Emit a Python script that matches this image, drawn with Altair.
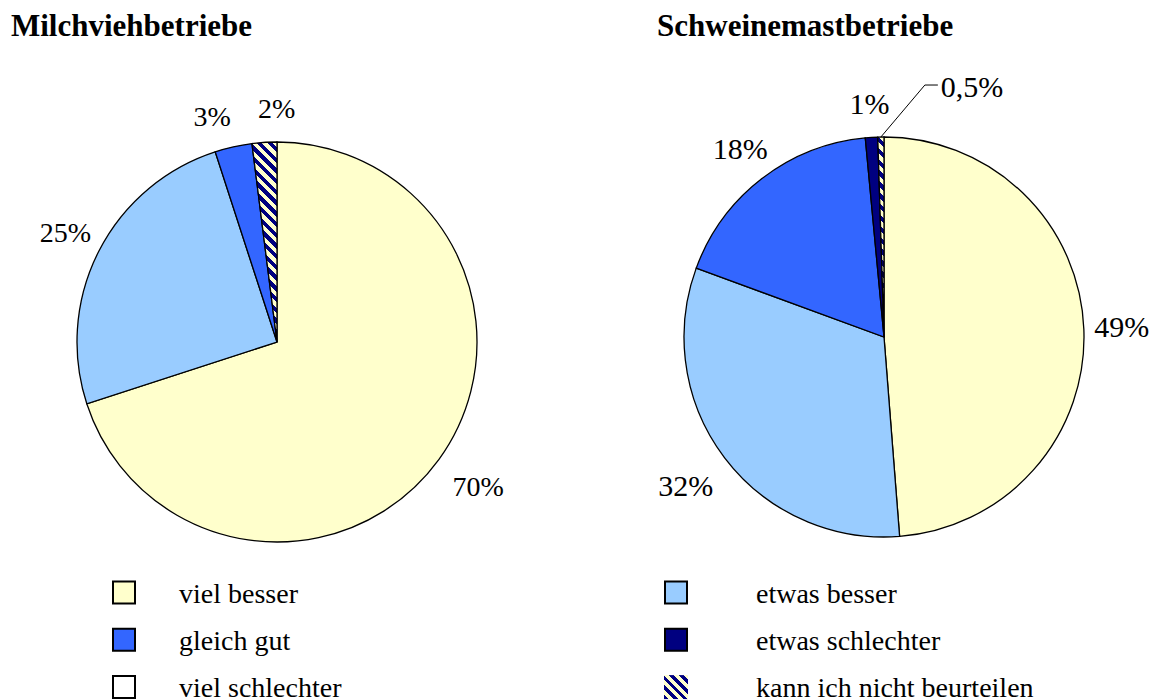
import math
import altair as alt
import pandas as pd

# ---------------- data ----------------
titles = ["Milchviehbetriebe", "Schweinemastbetriebe"]

cats_left = ["viel besser", "etwas besser", "gleich gut", "kann ich nicht beurteilen"]
vals_left = [70, 25, 3, 2]
labels_left = ["70%", "25%", "3%", "2%"]

cats_right = ["viel besser", "etwas besser", "gleich gut", "etwas schlechter",
              "kann ich nicht beurteilen"]
vals_right = [49, 32, 18, 1, 0.5]
labels_right = ["49%", "32%", "18%", "1%", "0,5%"]

legend_cats = ["viel besser", "etwas besser", "gleich gut", "etwas schlechter",
               "viel schlechter", "kann ich nicht beurteilen"]
HATCH = "kann ich nicht beurteilen"
solid_colors = ["#FFFFCC", "#99CCFF", "#3366FF", "#000080", "#FFFFFF", "#FFFFCC"]

# ---------------- style / layout ----------------
FONT = "Liberation Serif"
R = 200
LABEL_R0 = 232   # label distance near the top
LABEL_RS = 6     # extra distance at the sides
LABEL_RB = 20    # extra distance in the lower half
MIN_SEP = 16 * math.pi / 180  # minimum angular separation between labels
OFF = 8  # page margin
NAVY = "#000080"
PALE = "#FFFFCC"

color_scale = alt.Scale(domain=legend_cats, range=solid_colors)


def square_gradient(W, H, period=7.5):
    """Diagonal (\\) stripes as a hard-stop linear gradient over a W x H box."""
    lam = (W + H) / (W * W + H * H)
    n = max(1, round((W + H) / (math.sqrt(2) * period)))
    stops = []
    for k in range(n):
        o0, o1, o2 = k / n, (k + 0.5) / n, (k + 1) / n
        stops += [
            {"offset": o0, "color": NAVY},
            {"offset": o1, "color": NAVY},
            {"offset": o1, "color": PALE},
            {"offset": o2, "color": PALE},
        ]
    return {"gradient": "linear", "x1": 0, "y1": 1,
            "x2": lam * W, "y2": 1 - lam * H, "stops": stops}


def hatch_gradient(a0, a1, radius, period=7.5):
    pts = [(0.0, 0.0),
           (radius * math.sin(a0), -radius * math.cos(a0)),
           (radius * math.sin(a1), -radius * math.cos(a1))]
    for k in range(5):
        a = k * math.pi / 2
        if a0 <= a <= a1:
            pts.append((radius * math.sin(a), -radius * math.cos(a)))
    xs = [p[0] for p in pts]
    ys = [p[1] for p in pts]
    return square_gradient(max(xs) - min(xs), max(ys) - min(ys), period)


def pie_layers(cats, vals, labels, cx, cy, label_size):
    df = pd.DataFrame({"cat": cats, "value": vals, "label": labels,
                       "order": list(range(len(cats)))})
    total = sum(vals)
    base = (
        alt.Chart(df)
        .transform_joinaggregate(total="sum(value)")
        .transform_window(cum="sum(value)", sort=[alt.SortField("order")], frame=[None, 0])
        .transform_calculate(
            t0="(datum.cum - datum.value) / datum.total * 2 * PI",
            t1="datum.cum / datum.total * 2 * PI",
        )
        .transform_calculate(mid="(datum.t0 + datum.t1) / 2")
        .transform_calculate(
            sx=f"{cx} + {R} * sin(datum.mid)",
            sy=f"{cy} - {R} * cos(datum.mid)",
            small="datum.value / datum.total < 0.0075",
        )
        .transform_calculate(
            ex="datum.sx + 44", ey="datum.sy - 52", hx="datum.sx + 57"
        )
    )
    arcs = base.transform_filter(f"datum.cat != '{HATCH}'").mark_arc(
        radius=R, stroke="black", strokeWidth=1.3
    ).encode(
        theta=alt.Theta("t0:Q", scale=None),
        theta2="t1:Q",
        x=alt.value(cx), y=alt.value(cy),
        fill=alt.Color("cat:N", scale=color_scale, legend=None),
    )
    i = cats.index(HATCH)
    a0 = sum(vals[:i]) / total * 2 * math.pi
    a1 = sum(vals[: i + 1]) / total * 2 * math.pi
    hatched = base.transform_filter(f"datum.cat == '{HATCH}'").mark_arc(
        radius=R, stroke="black", strokeWidth=1.3, fill=hatch_gradient(a0, a1, R)
    ).encode(
        theta=alt.Theta("t0:Q", scale=None),
        theta2="t1:Q",
        x=alt.value(cx), y=alt.value(cy),
    )
    text = (
        base.transform_filter("!datum.small")
        .transform_window(prev="lag(mid)", nxt="lead(mid)", sort=[alt.SortField("order")])
        .transform_calculate(
            gapn="datum.nxt == null ? 99 : datum.nxt - datum.mid",
            gapp="datum.prev == null ? 99 : datum.mid - datum.prev",
        )
        .transform_calculate(
            la=f"datum.mid - max(0, {MIN_SEP} - datum.gapn) / 2 + max(0, {MIN_SEP} - datum.gapp) / 2"
        )
        .transform_calculate(
            lr=f"{LABEL_R0} + {LABEL_RS} * abs(sin(datum.la)) + {LABEL_RB} * max(0, -cos(datum.la))"
        )
        .transform_calculate(
            lx=f"{cx} + datum.lr * sin(datum.la)",
            ly=f"{cy} - datum.lr * cos(datum.la)",
        )
        .mark_text(font=FONT, fontSize=label_size, align="center", baseline="middle",
                   color="black")
        .encode(
            x=alt.X("lx:Q", scale=None, axis=None),
            y=alt.Y("ly:Q", scale=None, axis=None),
            text="label:N",
        )
    )
    small = base.transform_filter("datum.small")
    lead1 = small.mark_rule(color="black", strokeWidth=1).encode(
        x=alt.X("sx:Q", scale=None, axis=None), y=alt.Y("sy:Q", scale=None, axis=None),
        x2="ex:Q", y2="ey:Q",
    )
    lead2 = small.mark_rule(color="black", strokeWidth=1).encode(
        x=alt.X("ex:Q", scale=None, axis=None), y=alt.Y("ey:Q", scale=None, axis=None),
        x2="hx:Q", y2="ey:Q",
    )
    small_text = small.mark_text(
        font=FONT, fontSize=label_size, align="left", baseline="middle", dx=3, dy=3,
        color="black"
    ).encode(
        x=alt.X("hx:Q", scale=None, axis=None), y=alt.Y("ey:Q", scale=None, axis=None),
        text="label:N",
    )
    return [arcs, hatched, text, lead1, lead2, small_text]


left = pie_layers(cats_left, vals_left, labels_left, 277 - OFF, 342 - OFF, 28)
right = pie_layers(cats_right, vals_right, labels_right, 884 - OFF, 337 - OFF, 30)

# titles
title_layers = [
    alt.Chart(pd.DataFrame({"t": [titles[0]]})).mark_text(
        font=FONT, fontSize=31, fontWeight="bold", align="left", baseline="alphabetic"
    ).encode(x=alt.value(11 - OFF), y=alt.value(36 - OFF), text="t:N"),
    alt.Chart(pd.DataFrame({"t": [titles[1]]})).mark_text(
        font=FONT, fontSize=31, fontWeight="bold", align="left", baseline="alphabetic"
    ).encode(x=alt.value(657 - OFF), y=alt.value(36 - OFF), text="t:N"),
]

# legend (2 columns, row-major)
leg_df = pd.DataFrame({"cat": legend_cats, "idx": list(range(len(legend_cats)))})
leg_base = alt.Chart(leg_df).transform_calculate(
    col="datum.idx % 2", row="floor(datum.idx / 2)"
).transform_calculate(
    qx=f"datum.col == 0 ? {124 - OFF} : {676 - OFF}",
    qy=f"{592.5 - OFF} + datum.row * 47.3",
    tx=f"datum.col == 0 ? {179 - OFF} : {756 - OFF}",
).transform_calculate(ty="datum.qy + 10.3")

leg_sq = leg_base.transform_filter(f"datum.cat != '{HATCH}'").mark_square(
    size=22 * 22, opacity=1, stroke="black", strokeWidth=2
).encode(
    x=alt.X("qx:Q", scale=None, axis=None), y=alt.Y("qy:Q", scale=None, axis=None),
    fill=alt.Color("cat:N", scale=color_scale, legend=None),
)
leg_hatch = leg_base.transform_filter(f"datum.cat == '{HATCH}'").mark_square(
    size=24 * 24, opacity=1, strokeWidth=0, fill=square_gradient(24, 24, 7.5)
).encode(
    x=alt.X("qx:Q", scale=None, axis=None), y=alt.Y("qy:Q", scale=None, axis=None),
)
leg_text = leg_base.mark_text(
    font=FONT, fontSize=28, align="left", baseline="alphabetic", color="black"
).encode(
    x=alt.X("tx:Q", scale=None, axis=None), y=alt.Y("ty:Q", scale=None, axis=None),
    text="cat:N",
)

chart = alt.layer(
    *left, *right, *title_layers, leg_sq, leg_hatch, leg_text
).properties(
    width=1141, height=692, padding=0, autosize="none", background="white"
).configure_view(strokeOpacity=0)

chart.save("out.html", embed_options={"renderer": "svg", "actions": False})
